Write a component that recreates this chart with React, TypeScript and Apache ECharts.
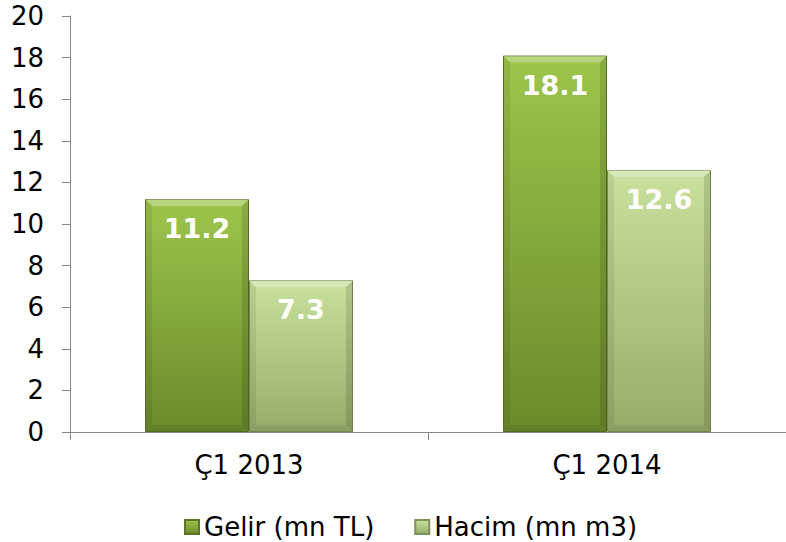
import React, { useEffect, useRef } from "react";
import * as echarts from "echarts";

const categories = ["Ç1 2013", "Ç1 2014"];
const gelir = [11.2, 18.1];
const hacim = [7.3, 12.6];
const seriesNames = ["Gelir (mn TL)", "Hacim (mn m3)"];
const yTicks = { min: 0, max: 20, interval: 2 };

const FONT = "'DejaVu Sans', Verdana, sans-serif";
const BAR_W = 104;
const BEVEL = 7;

export default function App() {
  const ref = useRef<HTMLDivElement>(null);
  useEffect(() => {
    document.body.style.margin = "0";
    if (!ref.current) return;
    const chart = echarts.init(ref.current, null, { renderer: "svg" });
    const grad = (top: string, bottom: string) =>
      new echarts.graphic.LinearGradient(0, 0, 0, 1, [
        { offset: 0, color: top },
        { offset: 1, color: bottom },
      ]);

    const overlayData: number[][] = [];
    categories.forEach((_, i) => {
      overlayData.push([i, gelir[i], 0]);
      overlayData.push([i, hacim[i], 1]);
    });

    const renderItem = (params: any, api: any) => {
      const cat = api.value(0);
      const val = api.value(1);
      const s = api.value(2);
      const top = api.coord([cat, val]);
      const base = api.coord([cat, 0]);
      const x0 = top[0] + (s === 0 ? -BAR_W : 0);
      const x1 = x0 + BAR_W;
      const y0 = top[1];
      const y1 = base[1];
      const b = BEVEL;
      return {
        type: "group",
        children: [
          {
            type: "polygon",
            shape: { points: [[x0, y0], [x1, y0], [x1 - b, y0 + b], [x0 + b, y0 + b]] },
            style: { fill: "rgba(255,255,255,0.28)" },
            silent: true,
          },
          {
            type: "polygon",
            shape: { points: [[x0, y0], [x0 + b, y0 + b], [x0 + b, y1 - b], [x0, y1]] },
            style: { fill: "rgba(0,0,0,0.07)" },
            silent: true,
          },
          {
            type: "polygon",
            shape: { points: [[x1, y0], [x1, y1], [x1 - b, y1 - b], [x1 - b, y0 + b]] },
            style: { fill: "rgba(0,0,0,0.12)" },
            silent: true,
          },
          {
            type: "polygon",
            shape: { points: [[x0, y1], [x0 + b, y1 - b], [x1 - b, y1 - b], [x1, y1]] },
            style: { fill: "rgba(0,0,0,0.08)" },
            silent: true,
          },
          {
            type: "text",
            x: (x0 + x1) / 2,
            y: y0 + 16,
            style: {
              text: String(val),
              fill: "#ffffff",
              font: `bold 27px ${FONT}`,
              align: "center",
              verticalAlign: "top",
            },
            silent: true,
          },
        ],
      };
    };

    chart.setOption({
      animation: false,
      backgroundColor: "#ffffff",
      grid: { left: 70, right: -4, top: 16, bottom: 110, containLabel: false },
      legend: {
        top: 509,
        left: 179,
        itemWidth: 14,
        itemHeight: 14,
        itemGap: 40,
        icon: "rect",
        textStyle: { fontFamily: FONT, fontSize: 26, color: "#000" },
        data: seriesNames,
      },
      xAxis: {
        type: "category",
        data: categories,
        axisLine: { lineStyle: { color: "#868686", width: 1 } },
        axisTick: { show: true, length: 8, lineStyle: { color: "#868686" } },
        axisLabel: { fontFamily: FONT, fontSize: 26, color: "#000", margin: 20 },
      },
      yAxis: {
        type: "value",
        min: yTicks.min,
        max: yTicks.max,
        interval: yTicks.interval,
        splitLine: { show: false },
        axisLine: { show: true, lineStyle: { color: "#868686", width: 1 } },
        axisTick: { show: true, length: 8, lineStyle: { color: "#868686" } },
        axisLabel: { fontFamily: FONT, fontSize: 26, color: "#000", margin: 26 },
      },
      series: [
        {
          name: seriesNames[0],
          type: "bar",
          data: gelir,
          barWidth: BAR_W,
          barGap: "0%",
          itemStyle: {
            color: grad("#9dc54b", "#6b8a2b"),
            borderColor: "#5b7624",
            borderWidth: 1,
          },
        },
        {
          name: seriesNames[1],
          type: "bar",
          data: hacim,
          barWidth: BAR_W,
          barGap: "0%",
          itemStyle: {
            color: grad("#c9e19d", "#96ac6b"),
            borderColor: "#7c9257",
            borderWidth: 1,
          },
        },
        {
          type: "custom",
          z: 5,
          renderItem,
          data: overlayData,
          encode: { x: 0, y: 1 },
          silent: true,
          tooltip: { show: false },
        },
      ],
    });
    return () => chart.dispose();
  }, []);
  return <div ref={ref} style={{ width: 786, height: 542 }} />;
}
